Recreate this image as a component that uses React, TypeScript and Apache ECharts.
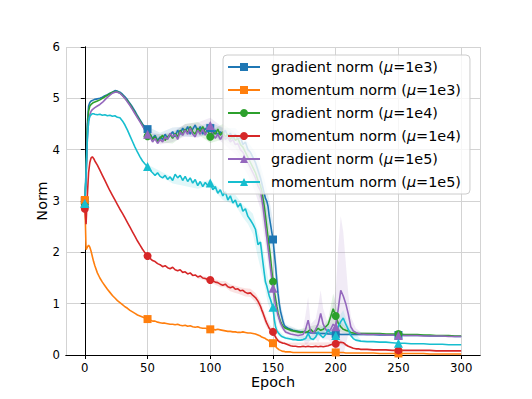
import React, { useEffect, useRef } from "react";
import * as echarts from "echarts";

const EPOCHS = [
  0, 1, 2, 3, 4, 5, 6, 7, 8,
  10, 12, 14, 16, 18, 20, 22, 24, 26, 28, 30, 32, 34, 36, 38, 40, 42, 44, 46, 48,
  50, 52, 54, 56, 58, 60, 62, 64, 66, 68, 70, 72, 74, 76, 78, 80, 82, 84, 86, 88, 90, 92, 94, 96, 98,
  100, 102, 104, 106, 108, 110, 112, 114, 116, 118, 120, 122, 124, 126, 128, 130, 132, 134, 136, 138, 140,
  141, 142, 143, 144, 145, 146, 147, 148, 149, 150, 151, 152, 153, 154, 155, 156, 157, 158, 159,
  160, 162, 164, 166, 168, 170, 172, 174, 176, 178, 180, 182, 184, 186, 188, 190, 192, 194, 196, 198, 200, 202, 204, 206, 208, 210, 212, 214, 216, 218, 220,
  225, 230, 235, 240, 245, 250, 255, 260, 265, 270, 275, 280, 285, 290, 295, 300,
];

const MARK_EPOCHS = [0, 50, 100, 150, 200, 250];
const X_TICKS = [0, 50, 100, 150, 200, 250, 300];
const Y_TICKS = [0, 1, 2, 3, 4, 5, 6];

const GRAD_1E3 = [
  3.0, 3.6, 4.5, 4.85, 4.92, 4.95, 4.96, 4.97, 4.98,
  4.99, 5.0, 5.02, 5.05, 5.07, 5.1, 5.12, 5.15, 5.14, 5.12, 5.08, 5.03, 4.97, 4.9, 4.83, 4.75, 4.66, 4.58, 4.5, 4.44,
  4.4, 4.3, 4.22, 4.28, 4.18, 4.25, 4.2, 4.3, 4.22, 4.28, 4.35, 4.25, 4.38, 4.3, 4.42, 4.35, 4.45, 4.3, 4.4, 4.48, 4.35, 4.45, 4.3, 4.42, 4.35,
  4.42, 4.3, 4.38, 4.28, 4.35, 4.3, 4.38, 4.25, 4.32, 4.22, 4.3, 4.2, 4.25, 4.1, 4.15, 4.0, 3.95, 3.85, 3.75, 3.6, 3.45,
  3.35, 3.25, 3.15, 3.05, 3.0, 2.9, 2.7, 2.55, 2.4, 2.25, 2.0, 1.75, 1.46, 1.2, 1.0, 0.85, 0.75, 0.65, 0.58,
  0.55, 0.52, 0.5, 0.48, 0.47, 0.46, 0.45, 0.45, 0.44, 0.44, 0.43, 0.43, 0.43, 0.42, 0.42, 0.42, 0.42, 0.41, 0.41, 0.41, 0.41, 0.41, 0.4, 0.4, 0.4, 0.4, 0.4, 0.4, 0.4, 0.4, 0.4,
  0.4, 0.4, 0.39, 0.39, 0.39, 0.39, 0.38, 0.38, 0.38, 0.38, 0.37, 0.37, 0.37, 0.37, 0.36, 0.36,
];

const MOM_1E3 = [
  3.02, 2.05, 2.1, 2.14, 2.1, 2.02, 1.92, 1.82, 1.74,
  1.6, 1.5, 1.42, 1.35, 1.28, 1.22, 1.16, 1.11, 1.06, 1.02, 0.98, 0.94, 0.91, 0.87, 0.84, 0.81, 0.78, 0.76, 0.74, 0.72,
  0.7, 0.68, 0.66, 0.66, 0.64, 0.63, 0.62, 0.62, 0.61, 0.6, 0.6, 0.59, 0.6, 0.58, 0.57, 0.58, 0.56, 0.57, 0.55, 0.54, 0.55, 0.53, 0.52, 0.52, 0.51,
  0.5, 0.5, 0.49, 0.5, 0.49, 0.48, 0.47, 0.46, 0.46, 0.45, 0.45, 0.44, 0.44, 0.45, 0.44, 0.43, 0.43, 0.42, 0.41, 0.39, 0.37,
  0.35, 0.34, 0.33, 0.32, 0.3, 0.29, 0.27, 0.26, 0.24, 0.23, 0.2, 0.17, 0.14, 0.12, 0.1, 0.09, 0.08, 0.07, 0.07,
  0.06, 0.06, 0.06, 0.05, 0.05, 0.05, 0.05, 0.05, 0.05, 0.05, 0.05, 0.05, 0.05, 0.05, 0.05, 0.05, 0.05, 0.05, 0.05, 0.05, 0.05, 0.05, 0.05, 0.05, 0.04, 0.04, 0.04, 0.04, 0.04, 0.04, 0.04,
  0.04, 0.04, 0.03, 0.03, 0.03, 0.03, 0.03, 0.03, 0.03, 0.03, 0.02, 0.02, 0.02, 0.02, 0.02, 0.02,
];

const GRAD_1E4 = [
  2.9, 3.5, 4.4, 4.75, 4.85, 4.88, 4.9, 4.92, 4.93,
  4.95, 4.97, 5.0, 5.03, 5.06, 5.09, 5.12, 5.13, 5.13, 5.1, 5.06, 5.0, 4.95, 4.88, 4.8, 4.72, 4.64, 4.56, 4.48, 4.38,
  4.26, 4.3, 4.2, 4.25, 4.15, 4.22, 4.28, 4.18, 4.25, 4.3, 4.22, 4.32, 4.25, 4.38, 4.3, 4.4, 4.33, 4.45, 4.35, 4.3, 4.42, 4.35, 4.45, 4.32, 4.38,
  4.25, 4.35, 4.3, 4.4, 4.28, 4.35, 4.25, 4.3, 4.2, 4.28, 4.18, 4.22, 4.1, 4.05, 3.95, 3.85, 3.75, 3.65, 3.55, 3.4, 3.3,
  3.2, 3.05, 2.9, 2.7, 2.5, 2.3, 2.1, 1.9, 1.65, 1.43, 1.25, 1.1, 0.95, 0.82, 0.72, 0.65, 0.6, 0.56, 0.54,
  0.52, 0.5, 0.48, 0.47, 0.46, 0.45, 0.44, 0.45, 0.44, 0.46, 0.5, 0.45, 0.47, 0.52, 0.48, 0.5, 0.55, 0.6, 0.75, 0.9, 0.76, 0.62, 0.55, 0.5, 0.48, 0.47, 0.44, 0.43, 0.42, 0.42, 0.42,
  0.42, 0.42, 0.42, 0.41, 0.41, 0.41, 0.4, 0.4, 0.4, 0.39, 0.39, 0.38, 0.38, 0.38, 0.37, 0.37,
];

const MOM_1E4 = [
  2.85, 2.55, 3.1, 3.55, 3.75, 3.84, 3.86, 3.83, 3.78,
  3.7, 3.6, 3.5, 3.4, 3.3, 3.2, 3.11, 3.02, 2.93, 2.84, 2.76, 2.67, 2.58, 2.49, 2.4, 2.31, 2.22, 2.14, 2.06, 1.99,
  1.93, 1.88, 1.84, 1.82, 1.78, 1.76, 1.72, 1.74, 1.7, 1.68, 1.71, 1.66, 1.64, 1.66, 1.61, 1.62, 1.58, 1.6, 1.55, 1.56, 1.52, 1.54, 1.5, 1.49, 1.47,
  1.46, 1.44, 1.42, 1.41, 1.38, 1.36, 1.38, 1.33, 1.31, 1.33, 1.28, 1.29, 1.25, 1.26, 1.22, 1.2, 1.21, 1.16, 1.12, 1.05, 0.95,
  0.88, 0.82, 0.75, 0.68, 0.62, 0.57, 0.52, 0.49, 0.47, 0.45, 0.4, 0.35, 0.31, 0.28, 0.26, 0.25, 0.24, 0.23, 0.23,
  0.22, 0.2, 0.18, 0.17, 0.17, 0.16, 0.16, 0.17, 0.16, 0.17, 0.16, 0.16, 0.17, 0.16, 0.17, 0.16, 0.17, 0.18, 0.2, 0.21, 0.22, 0.24, 0.25, 0.24, 0.2, 0.17, 0.15, 0.13, 0.12, 0.12, 0.11,
  0.11, 0.1, 0.1, 0.1, 0.09, 0.09, 0.09, 0.09, 0.09, 0.09, 0.09, 0.08, 0.08, 0.08, 0.08, 0.08,
];

const GRAD_1E5 = [
  2.95, 3.4, 4.2, 4.55, 4.68, 4.75, 4.78, 4.8, 4.82,
  4.85, 4.88, 4.92, 4.97, 5.02, 5.06, 5.1, 5.12, 5.12, 5.1, 5.05, 5.0, 4.93, 4.86, 4.78, 4.7, 4.62, 4.54, 4.46, 4.38,
  4.3, 4.25, 4.15, 4.22, 4.12, 4.2, 4.15, 4.25, 4.2, 4.32, 4.25, 4.3, 4.2, 4.35, 4.28, 4.38, 4.3, 4.42, 4.3, 4.25, 4.38, 4.3, 4.4, 4.28, 4.4,
  4.47, 4.3, 4.22, 4.3, 4.2, 4.28, 4.2, 4.25, 4.15, 4.2, 4.1, 4.12, 4.0, 3.95, 3.85, 3.75, 3.65, 3.55, 3.45, 3.3, 3.2,
  3.05, 2.9, 2.7, 2.5, 2.3, 2.1, 1.9, 1.7, 1.5, 1.3, 1.12, 0.98, 0.88, 0.78, 0.7, 0.62, 0.57, 0.52, 0.48,
  0.45, 0.43, 0.41, 0.4, 0.39, 0.38, 0.39, 0.4, 0.5, 0.68, 0.45, 0.42, 0.5, 0.6, 0.81, 0.6, 0.5, 0.45, 0.5, 0.6, 0.55, 0.9, 1.26, 1.15, 1.0, 0.8, 0.55, 0.47, 0.44, 0.42, 0.41,
  0.4, 0.4, 0.4, 0.39, 0.39, 0.38, 0.38, 0.38, 0.38, 0.37, 0.37, 0.37, 0.37, 0.36, 0.36, 0.36,
];

const MOM_1E5 = [
  2.95, 3.5, 4.2, 4.55, 4.65, 4.68, 4.7, 4.7, 4.69,
  4.68, 4.69, 4.67, 4.68, 4.66, 4.67, 4.65, 4.66, 4.63, 4.62, 4.56, 4.48, 4.38, 4.27, 4.16, 4.05, 3.95, 3.86, 3.78, 3.72,
  3.67, 3.6, 3.55, 3.5, 3.55, 3.48, 3.45, 3.5, 3.42, 3.47, 3.4, 3.52, 3.45, 3.5, 3.4, 3.48, 3.38, 3.45, 3.35, 3.42, 3.3, 3.38, 3.28, 3.36, 3.3,
  3.35, 3.22, 3.28, 3.15, 3.22, 3.1, 3.18, 3.02, 3.1, 2.96, 3.02, 2.88, 2.95, 2.8, 2.85, 2.7, 2.63, 2.55, 2.45, 2.15, 2.2,
  2.0, 1.8, 1.6, 1.42, 1.35, 1.25, 1.15, 1.08, 1.0, 0.93, 0.7, 0.55, 0.48, 0.44, 0.41, 0.38, 0.36, 0.35, 0.34,
  0.33, 0.32, 0.31, 0.3, 0.3, 0.29, 0.29, 0.3, 0.32, 0.42, 0.32, 0.3, 0.35, 0.45, 0.38, 0.34, 0.4, 0.5, 0.42, 0.45, 0.38, 0.55, 0.65, 0.72, 0.6, 0.5, 0.38, 0.32, 0.29, 0.28, 0.27,
  0.26, 0.26, 0.25, 0.25, 0.24, 0.23, 0.23, 0.22, 0.22, 0.22, 0.21, 0.21, 0.21, 0.2, 0.2, 0.2,
];

// Standard-deviation (shaded band) estimates at sparse epochs
const GRAD_1E3_STD_EPOCHS = [50, 60, 70, 80, 90, 100, 110, 120, 130, 136, 140, 144, 148, 150, 152, 156, 160, 170, 190, 220, 240];
const GRAD_1E3_STD = [0.05, 0.08, 0.08, 0.1, 0.1, 0.12, 0.12, 0.12, 0.15, 0.2, 0.25, 0.3, 0.35, 0.35, 0.3, 0.15, 0.05, 0.04, 0.03, 0.02, 0.02];

const GRAD_1E4_STD_EPOCHS = [50, 60, 70, 80, 90, 100, 110, 120, 130, 136, 140, 144, 148, 150, 152, 156, 160, 170, 180, 186, 190, 194, 196, 198, 200, 202, 204, 208, 212, 220, 240];
const GRAD_1E4_STD = [0.05, 0.08, 0.1, 0.1, 0.12, 0.12, 0.15, 0.15, 0.2, 0.25, 0.3, 0.35, 0.35, 0.3, 0.25, 0.1, 0.04, 0.04, 0.06, 0.08, 0.06, 0.1, 0.2, 0.3, 0.25, 0.15, 0.1, 0.06, 0.04, 0.03, 0.02];

const GRAD_1E5_STD_EPOCHS = [50, 60, 70, 80, 90, 100, 110, 120, 130, 136, 140, 144, 148, 150, 152, 156, 160, 170, 174, 176, 178, 180, 184, 186, 188, 190, 194, 198, 200, 202, 204, 206, 208, 210, 212, 216, 220, 240];
const GRAD_1E5_STD = [0.06, 0.1, 0.1, 0.12, 0.15, 0.15, 0.15, 0.2, 0.25, 0.3, 0.35, 0.35, 0.3, 0.25, 0.2, 0.1, 0.04, 0.04, 0.1, 0.3, 0.45, 0.15, 0.2, 0.35, 0.45, 0.3, 0.15, 0.4, 0.7, 1.2, 1.45, 1.25, 0.8, 0.4, 0.2, 0.08, 0.04, 0.02];

const MOM_1E4_STD_EPOCHS = [90, 96, 100, 104, 108, 112, 116, 120, 124, 128, 132, 136, 140, 144, 148, 150, 154, 160, 200, 204, 210];
const MOM_1E4_STD = [0.03, 0.04, 0.05, 0.05, 0.06, 0.06, 0.07, 0.07, 0.07, 0.08, 0.08, 0.09, 0.1, 0.1, 0.08, 0.06, 0.03, 0.02, 0.03, 0.04, 0.02];

const MOM_1E5_STD_EPOCHS = [50, 70, 90, 100, 110, 120, 126, 130, 134, 138, 142, 146, 150, 154, 160, 180, 186, 194, 200, 204, 206, 210, 220];
const MOM_1E5_STD = [0.04, 0.06, 0.06, 0.06, 0.08, 0.1, 0.12, 0.15, 0.2, 0.25, 0.3, 0.25, 0.15, 0.05, 0.03, 0.05, 0.08, 0.08, 0.1, 0.15, 0.15, 0.08, 0.03];

const SERIES_DEFS = [
  { name: "gradient norm (μ=1e3)", values: GRAD_1E3, color: "#1f77b4", symbol: "rect", size: 8, stdEpochs: GRAD_1E3_STD_EPOCHS, std: GRAD_1E3_STD },
  { name: "momentum norm (μ=1e3)", values: MOM_1E3, color: "#ff7f0e", symbol: "rect", size: 8, stdEpochs: null, std: null },
  { name: "gradient norm (μ=1e4)", values: GRAD_1E4, color: "#2ca02c", symbol: "circle", size: 8, stdEpochs: GRAD_1E4_STD_EPOCHS, std: GRAD_1E4_STD },
  { name: "momentum norm (μ=1e4)", values: MOM_1E4, color: "#d62728", symbol: "circle", size: 8, stdEpochs: MOM_1E4_STD_EPOCHS, std: MOM_1E4_STD },
  { name: "gradient norm (μ=1e5)", values: GRAD_1E5, color: "#9467bd", symbol: "triangle", size: 9, stdEpochs: GRAD_1E5_STD_EPOCHS, std: GRAD_1E5_STD },
  { name: "momentum norm (μ=1e5)", values: MOM_1E5, color: "#17becf", symbol: "triangle", size: 9, stdEpochs: MOM_1E5_STD_EPOCHS, std: MOM_1E5_STD },
];

const FONT = "'DejaVu Sans', 'Liberation Sans', sans-serif";

function bandSeries(s: any, idx: number) {
  if (!s.stdEpochs) return [];
  const rows: number[][] = s.stdEpochs.map((e: number, k: number) => {
    const v = s.values[EPOCHS.indexOf(e)];
    return [e, Math.max(0, v - s.std[k]), v + s.std[k]];
  });
  return [
    {
      type: "custom",
      name: "_band" + idx,
      z: 1,
      silent: true,
      clip: true,
      encode: { x: 0, y: [1, 2] },
      data: rows,
      renderItem: (params: any, api: any) => {
        if (params.dataIndex !== 0) return null;
        const upper = rows.map((r) => api.coord([r[0], r[2]]));
        const lower = rows.map((r) => api.coord([r[0], r[1]])).reverse();
        return {
          type: "polygon",
          shape: { points: upper.concat(lower) },
          style: { fill: s.color, opacity: 0.13 },
        };
      },
    },
  ];
}

function buildOption() {
  const bands = SERIES_DEFS.flatMap((s, i) => bandSeries(s, i));
  const lines = SERIES_DEFS.map((s) => ({
    type: "line",
    name: s.name,
    symbol: s.symbol,
    symbolSize: s.size,
    showSymbol: true,
    showAllSymbol: true,
    z: 2,
    color: s.color,
    lineStyle: { color: s.color, width: 1.6 },
    itemStyle: { color: s.color },
    emphasis: { disabled: true },
    data: EPOCHS.map((e, i) =>
      MARK_EPOCHS.includes(e)
        ? { value: [e, s.values[i]] }
        : { value: [e, s.values[i]], symbol: "none" }
    ),
  }));

  const axisCommon = {
    axisLine: { show: true, lineStyle: { color: "#000", width: 1 } },
    axisTick: { show: true, inside: false, length: 4, lineStyle: { color: "#000" } },
  };

  return {
    animation: false,
    backgroundColor: "#ffffff",
    grid: { left: 66, right: 52, top: 47, bottom: 44, containLabel: false },
    legend: {
      orient: "vertical",
      left: 223,
      top: 55,
      z: 20,
      backgroundColor: "rgba(255,255,255,0.8)",
      borderColor: "#cccccc",
      borderWidth: 1,
      borderRadius: 4,
      padding: [5, 9, 5, 4],
      itemWidth: 32,
      itemHeight: 10,
      itemGap: 9,
      data: SERIES_DEFS.map((s) => s.name),
      formatter: (name: string) => {
        const [a, b] = name.split("μ");
        return `{n|${a}}{i|μ}{n|${b}}`;
      },
      textStyle: {
        color: "#000",
        fontFamily: FONT,
        fontSize: 14.4,
        padding: [0, 0, 0, 6],
        rich: {
          n: { fontFamily: FONT, fontSize: 14.4, color: "#000" },
          i: { fontFamily: FONT, fontSize: 14.4, color: "#000", fontStyle: "italic" },
        },
      },
    },
    xAxis: [
      {
        type: "value",
        min: -15,
        max: 315,
        splitNumber: 7,
        ...axisCommon,
        name: "Epoch",
        nameLocation: "middle",
        nameGap: 20,
        nameMoveOverlap: false,
        nameTextStyle: { fontFamily: FONT, fontSize: 14.4, color: "#000" },
        axisLabel: {
          show: true,
          margin: 7,
          showMinLabel: false,
          showMaxLabel: false,
          fontFamily: FONT,
          fontSize: 11.7,
          color: "#000",
          formatter: (v: number) => (X_TICKS.includes(v) ? String(v) : ""),
        },
        splitLine: { show: true, lineStyle: { color: "#d3d3d3", width: 1 } },
      },
      {
        type: "value",
        position: "top",
        min: -15,
        max: 315,
        axisLine: { show: true, lineStyle: { color: "#000", width: 1 } },
        axisTick: { show: false },
        axisLabel: { show: false },
        splitLine: { show: false },
      },
    ],
    yAxis: [
      {
        type: "value",
        min: 0,
        max: 6,
        interval: 1,
        ...axisCommon,
        name: "Norm",
        nameLocation: "middle",
        nameRotate: 90,
        nameGap: 17,
        nameMoveOverlap: false,
        nameTextStyle: { fontFamily: FONT, fontSize: 14.4, color: "#000" },
        axisLabel: {
          show: true,
          margin: 6,
          fontFamily: FONT,
          fontSize: 11.7,
          color: "#000",
          formatter: (v: number) => (Y_TICKS.includes(v) ? String(v) : ""),
        },
        splitLine: { show: true, lineStyle: { color: "#d3d3d3", width: 1 } },
      },
      {
        type: "value",
        position: "right",
        min: 0,
        max: 6,
        interval: 1,
        axisLine: { show: true, lineStyle: { color: "#000", width: 1 } },
        axisTick: { show: false },
        axisLabel: { show: false },
        splitLine: { show: false },
      },
    ],
    series: [...bands, ...lines],
  };
}

export default function App() {
  const ref = useRef<HTMLDivElement>(null);
  useEffect(() => {
    if (!ref.current) return;
    const chart = echarts.init(ref.current, null, { renderer: "svg" });
    chart.setOption(buildOption() as any);
    return () => chart.dispose();
  }, []);
  return (
    <div
      ref={ref}
      style={{ position: "absolute", left: 0, top: 0, width: 532, height: 399 }}
    />
  );
}
